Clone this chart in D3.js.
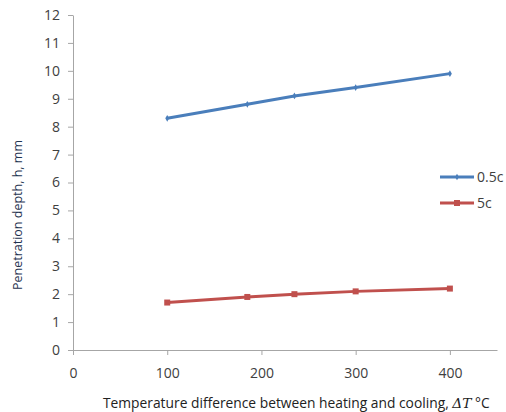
<!DOCTYPE html>
<html>
<head>
<meta charset="utf-8">
<script src="https://cdn.jsdelivr.net/npm/d3@7"></script>
<style>
  body { margin: 0; background: #fff; }
  svg { display: block; font-family: "Open Sans", sans-serif; }
</style>
</head>
<body>
<svg id="chart" width="506" height="412"></svg>
<script>
// data
var deltaT = [100, 185, 235, 300, 400];
var depth05c = [8.3, 8.8, 9.1, 9.4, 9.9];
var depth5c = [1.7, 1.9, 2.0, 2.1, 2.2];
var seriesNames = ["0.5c", "5c"];
var xTicks = [0, 100, 200, 300, 400];
var yTicks = [0, 1, 2, 3, 4, 5, 6, 7, 8, 9, 10, 11, 12];

var W = 506, H = 412;
var m = {left: 73, top: 15, right: 9, bottom: 62};

var svg = d3.select("#chart");

var x = d3.scaleLinear().domain([0, 450]).range([m.left, W - m.right]);
var y = d3.scaleLinear().domain([0, 12]).range([H - m.bottom, m.top]);

var axisCol = "#a6a6a6";
var textCol = "#404040";

// axes
var gx = svg.append("g")
	.attr("transform", "translate(0," + y(0) + ")")
	.call(d3.axisBottom(x).tickValues(xTicks).tickSize(5).tickPadding(13).tickSizeOuter(0));
var gy = svg.append("g")
	.attr("transform", "translate(" + x(0) + ",0)")
	.call(d3.axisLeft(y).tickValues(yTicks).tickSize(5).tickPadding(8).tickSizeOuter(0));

[gx, gy].forEach(function(g) {
	g.select(".domain").attr("stroke", axisCol);
	g.selectAll(".tick line").attr("stroke", axisCol);
	g.selectAll(".tick text").attr("fill", textCol).style("font-size", "14px").style("font-family", "Open Sans");
});

// marker shapes
function markerFor(s) {
	return s.marker == "square" ? d3.symbol().type(d3.symbolSquare).size(36)
		: d3.symbol().type(d3.symbolDiamond).size(13);
}

// lines
var series = [
	{name: seriesNames[0], vals: depth05c, color: "#4a7ebb", marker: "diamond"},
	{name: seriesNames[1], vals: depth5c, color: "#c0504d", marker: "square"}
];

var line = d3.line()
	.x(function(d) { return x(d[0]); })
	.y(function(d) { return y(d[1]); });

series.forEach(function(s) {
	var pts = deltaT.map(function(t, i) { return [t, s.vals[i]]; });
	svg.append("path")
		.datum(pts)
		.attr("fill", "none")
		.attr("stroke", s.color)
		.attr("stroke-width", 3)
		.attr("d", line);
	svg.selectAll(null)
		.data(pts)
		.enter().append("path")
		.attr("transform", function(d) { return "translate(" + x(d[0]) + "," + y(d[1]) + ")"; })
		.attr("fill", s.color)
		.attr("d", markerFor(s));
});

// legend
var leg = svg.append("g").attr("transform", "translate(440,177)");
series.forEach(function(s, i) {
	var g = leg.append("g").attr("transform", "translate(0," + (i * 26) + ")");
	g.append("line").attr("x1", 0).attr("x2", 34).attr("stroke", s.color).attr("stroke-width", 3);
	g.append("path").attr("transform", "translate(17,0)").attr("fill", s.color).attr("d", markerFor(s));
	g.append("text").attr("x", 37).attr("dy", "0.35em")
		.attr("fill", textCol).style("font-size", "14px").text(s.name);
});

// axis titles
svg.append("text")
	.attr("transform", "translate(22," + 215 + ") rotate(-90)")
	.attr("text-anchor", "middle")
	.attr("fill", "#1f3350")
	.style("font-size", "12.5px")
	.text("Penetration depth, h, mm");

var xt = svg.append("text")
	.attr("x", 103)
	.attr("y", 408)
	.attr("fill", "#222")
	.style("font-size", "13.8px");
xt.append("tspan").text("Temperature difference between heating and cooling, ");
xt.append("tspan").style("font-family", "DejaVu Serif").style("font-style", "italic").text("ΔT");
xt.append("tspan").text(" °C");
</script>
</body>
</html>
